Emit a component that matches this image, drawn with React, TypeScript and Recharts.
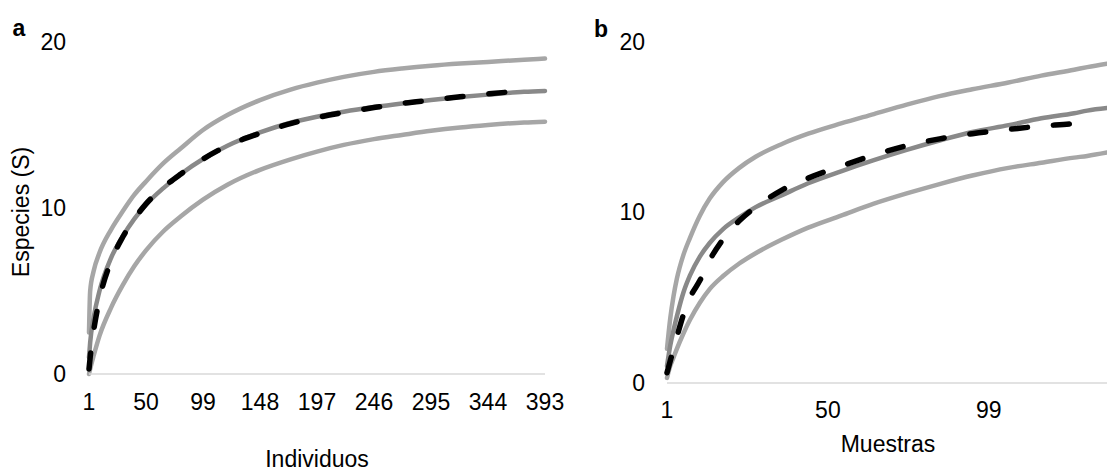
import React from "react";
import { LineChart, Line, XAxis, YAxis } from "recharts";

// panel a: individuos
const nA = [1, 2, 5, 10, 20, 30, 40, 50, 65, 80, 99, 120, 148, 175, 197, 220, 246, 270, 295, 320, 344, 375, 393];
const upperA = [2.5, 5.0, 6.2, 7.3, 8.7, 9.8, 10.8, 11.6, 12.7, 13.6, 14.7, 15.6, 16.5, 17.15, 17.55, 17.9, 18.2, 18.4, 18.57, 18.7, 18.8, 18.93, 19.0];
const meanA = [1.0, 1.9, 3.4, 5.0, 7.0, 8.3, 9.35, 10.2, 11.2, 12.05, 12.95, 13.75, 14.55, 15.15, 15.5, 15.8, 16.08, 16.3, 16.5, 16.68, 16.83, 17.0, 17.05];
const observedA = [0.3, 1.0, 2.6, 4.5, 6.8, 8.25, 9.35, 10.25, 11.25, 12.05, 12.95, 13.75, 14.5, 15.1, 15.45, 15.75, 16.05, 16.3, 16.5, 16.7, 16.88, 17.05, null];
const lowerA = [0, 0.3, 1.1, 2.3, 4.0, 5.35, 6.5, 7.45, 8.6, 9.5, 10.5, 11.4, 12.3, 12.95, 13.4, 13.8, 14.15, 14.4, 14.65, 14.85, 15.0, 15.15, 15.2];
const ticksA = [1, 50, 99, 148, 197, 246, 295, 344, 393];

// panel b: muestras
const nB = [1, 2, 3, 4, 6, 8, 11, 14, 18, 23, 28, 36, 44, 54, 64, 74, 84, 94, 105, 115, 125, 129, 135];
const upperB = [2.0, 3.8, 5.1, 6.1, 7.5, 8.5, 9.8, 10.8, 11.75, 12.6, 13.25, 14.0, 14.6, 15.2, 15.75, 16.3, 16.8, 17.2, 17.6, 18.0, 18.35, 18.5, 18.7];
const meanB = [1.0, 2.2, 3.1, 3.9, 5.3, 6.3, 7.4, 8.2, 9.0, 9.7, 10.3, 11.0, 11.7, 12.4, 13.05, 13.65, 14.2, 14.7, 15.1, 15.5, 15.8, 15.95, 16.1];
const observedB = [0.6, 1.3, 2.0, 2.7, 4.0, 5.0, 6.0, 7.2, 8.4, 9.5, 10.3, 11.3, 12.0, 12.7, 13.35, 13.9, 14.3, 14.6, 14.85, 15.05, 15.2, 15.3, null];
const lowerB = [0.3, 1.0, 1.5, 2.0, 2.9, 3.7, 4.7, 5.5, 6.25, 7.0, 7.6, 8.4, 9.1, 9.8, 10.5, 11.1, 11.65, 12.15, 12.6, 12.9, 13.2, 13.3, 13.5];
const ticksB = [1, 50, 99];

const yTicks = [0, 10, 20];

const FONT = '"Liberation Sans", Arial, sans-serif';
const FS = 23;
const LIGHT = "#a6a6a6";
const MID = "#898989";

function buildRows(n, upper, mean, observed, lower) {
  return n.map((x, i) => ({
    n: x,
    upper: upper[i],
    mean: mean[i],
    observed: observed[i],
    lower: lower[i],
  }));
}

function Panel({ data, ticks, domain, width, height, margin, yMargin, xMargin }) {
  return (
    <LineChart width={width} height={height} data={data} margin={margin}>
      <XAxis
        type="number"
        dataKey="n"
        domain={domain}
        ticks={ticks}
        interval={0}
        height={40}
        tickLine={false}
        tickSize={0}
        tickMargin={xMargin}
        axisLine={{ stroke: "#d9d9d9", strokeWidth: 1.5 }}
        tick={{ fill: "#000", fontSize: FS, fontFamily: FONT }}
      />
      <YAxis
        type="number"
        domain={[0, 20]}
        ticks={yTicks}
        interval={0}
        width={60}
        axisLine={false}
        tickLine={false}
        tickSize={0}
        tickMargin={yMargin}
        tick={{ fill: "#000", fontSize: FS, fontFamily: FONT }}
      />
      <Line type="monotone" dataKey="lower" stroke={LIGHT} strokeWidth={4.5} strokeLinecap="round" dot={false} activeDot={false} isAnimationActive={false} />
      <Line type="monotone" dataKey="upper" stroke={LIGHT} strokeWidth={4.5} strokeLinecap="round" dot={false} activeDot={false} isAnimationActive={false} />
      <Line type="monotone" dataKey="mean" stroke={MID} strokeWidth={4.5} strokeLinecap="round" dot={false} activeDot={false} isAnimationActive={false} />
      <Line type="monotone" dataKey="observed" stroke="#000" strokeWidth={5.5} strokeDasharray="16 26" strokeLinecap="round" dot={false} activeDot={false} isAnimationActive={false} />
    </LineChart>
  );
}

export default function App() {
  const rowsA = buildRows(nA, upperA, meanA, observedA, lowerA);
  const rowsB = buildRows(nB, upperB, meanB, observedB, lowerB);

  return (
    <div style={{ position: "absolute", left: 0, top: 0, width: 1107, height: 473, overflow: "hidden", background: "#fff", fontFamily: FONT }}>
      <div style={{ position: "absolute", left: 0, top: 0 }}>
        <Panel
          data={rowsA}
          ticks={ticksA}
          domain={[1, 393]}
          width={585}
          height={473}
          margin={{ top: 42, right: 40, bottom: 59, left: 29 }}
          yMargin={23}
          xMargin={19.5}
        />
      </div>
      <div style={{ position: "absolute", left: 580, top: 0 }}>
        <Panel
          data={rowsB}
          ticks={ticksB}
          domain={[1, 135]}
          width={527}
          height={473}
          margin={{ top: 41.5, right: 0, bottom: 50, left: 27 }}
          yMargin={22}
          xMargin={19}
        />
      </div>
      <svg width={1107} height={473} style={{ position: "absolute", left: 0, top: 0, pointerEvents: "none" }}>
        <text x={19} y={36} textAnchor="middle" fontSize={FS} fontWeight="bold" fontFamily={FONT}>a</text>
        <text x={601} y={37} textAnchor="middle" fontSize={FS} fontWeight="bold" fontFamily={FONT}>b</text>
        <text x={29} y={212} transform="rotate(-90 29 212)" textAnchor="middle" fontSize={FS} fontFamily={FONT}>Especies (S)</text>
        <text x={317} y={467} textAnchor="middle" fontSize={FS} fontFamily={FONT}>Individuos</text>
        <text x={888} y={452} textAnchor="middle" fontSize={FS} fontFamily={FONT}>Muestras</text>
      </svg>
    </div>
  );
}
